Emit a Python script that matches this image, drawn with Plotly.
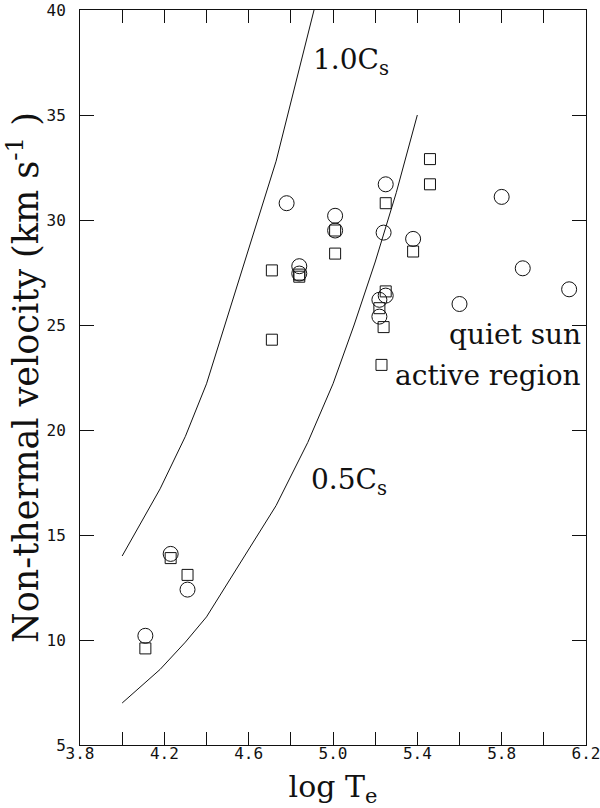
import plotly.graph_objects as go

# ---- data ----
cs05_logT = [4.0, 4.18, 4.3, 4.4, 4.73, 4.88, 5.0, 5.1, 5.2, 5.3, 5.4]
cs05_v = [7.0, 8.6, 9.9, 11.1, 16.4, 19.4, 22.2, 25.0, 28.0, 31.3, 35.0]

cs10_logT = [4.0, 4.18, 4.3, 4.4, 4.73, 4.88, 4.91]
cs10_v = [14.0, 17.2, 19.7, 22.2, 32.8, 38.8, 40.0]

qs_logT = [4.11, 4.23, 4.31, 4.78, 4.84, 4.84, 5.01, 5.01, 5.22, 5.25, 5.22,
           5.24, 5.25, 5.38, 5.60, 5.80, 5.90, 6.12]
qs_v = [10.2, 14.1, 12.4, 30.8, 27.8, 27.45, 30.2, 29.5, 26.2, 26.4, 25.4,
        29.4, 31.7, 29.1, 26.0, 31.1, 27.7, 26.7]

ar_logT = [4.11, 4.23, 4.31, 4.71, 4.71, 4.84, 4.84, 5.01, 5.01, 5.23, 5.22,
           5.24, 5.25, 5.25, 5.38, 5.46, 5.46]
ar_v = [9.6, 13.9, 13.1, 27.6, 24.3, 27.4, 27.3, 29.5, 28.4, 23.1, 25.8,
        24.9, 26.6, 30.8, 28.5, 32.9, 31.7]

x_tickvals = [3.8, 4.2, 4.6, 5.0, 5.4, 5.8, 6.2]
x_ticktext = ["3.8", "4.2", "4.6", "5.0", "5.4", "5.8", "6.2"]
y_tickvals = [5, 10, 15, 20, 25, 30, 35, 40]

serif = "DejaVu Serif"
mono = "DejaVu Sans Mono"
ink = "#111111"

fig = go.Figure()
fig.add_trace(go.Scatter(x=cs10_logT, y=cs10_v, mode="lines", name="1.0Cs",
                         line=dict(color=ink, width=1), showlegend=False))
fig.add_trace(go.Scatter(x=cs05_logT, y=cs05_v, mode="lines", name="0.5Cs",
                         line=dict(color=ink, width=1), showlegend=False))
fig.add_trace(go.Scatter(x=qs_logT, y=qs_v, mode="markers", name="quiet sun",
                         marker=dict(symbol="circle-open", size=15,
                                     line=dict(color=ink, width=1), color=ink),
                         showlegend=False))
fig.add_trace(go.Scatter(x=ar_logT, y=ar_v, mode="markers", name="active region",
                         marker=dict(symbol="square-open", size=11,
                                     line=dict(color=ink, width=1), color=ink),
                         showlegend=False))

ann_font = dict(family=serif, size=28, color=ink)
fig.add_annotation(x=4.898, y=37.55, text="1.0C<sub>s</sub>", showarrow=False,
                   xanchor="left", yanchor="middle", font=ann_font)
fig.add_annotation(x=4.888, y=17.55, text="0.5C<sub>s</sub>", showarrow=False,
                   xanchor="left", yanchor="middle", font=ann_font)
fig.add_annotation(x=6.185, y=24.55, text="quiet sun", showarrow=False,
                   xanchor="right", yanchor="middle", font=ann_font)
fig.add_annotation(x=6.185, y=22.6, text="active region", showarrow=False,
                   xanchor="right", yanchor="middle", font=ann_font)

fig.update_layout(
    width=600, height=808,
    margin=dict(l=80, r=14, t=10, b=63),
    paper_bgcolor="white", plot_bgcolor="white",
    xaxis=dict(range=[3.8, 6.2], tickmode="array", tickvals=x_tickvals,
               ticktext=x_ticktext, ticks="inside", ticklen=13, tickcolor=ink,
               minor=dict(tickmode="linear", tick0=3.8, dtick=0.2, ticks="inside",
                          ticklen=13, tickcolor=ink, showgrid=False),
               showline=True, linecolor=ink, linewidth=1, mirror="ticks",
               showgrid=False, zeroline=False, automargin=False,
               ticklabeloverflow="allow", ticklabelstandoff=-6,
               tickfont=dict(family=mono, size=16, color=ink),
               title=dict(text="log T<sub>e</sub>",
                          font=dict(family=serif, size=30, color=ink))),
    yaxis=dict(range=[5, 40], tickmode="array", tickvals=y_tickvals,
               ticks="inside", ticklen=14, tickcolor=ink,
               showline=True, linecolor=ink, linewidth=1, mirror="ticks",
               showgrid=False, zeroline=False, automargin=False,
               ticklabeloverflow="allow", ticklabelstandoff=10,
               tickfont=dict(family=mono, size=16, color=ink),
               title=dict(text="Non-thermal velocity (km s<sup>-1</sup> )",
                          standoff=6,
                          font=dict(family=serif, size=35, color=ink))),
)

# remove the page's default body margin so the figure sits at the window origin
fig.write_html("out.html",
               config={"displayModeBar": False},
               post_script="document.body.style.margin='0';document.body.style.overflow='hidden';")
